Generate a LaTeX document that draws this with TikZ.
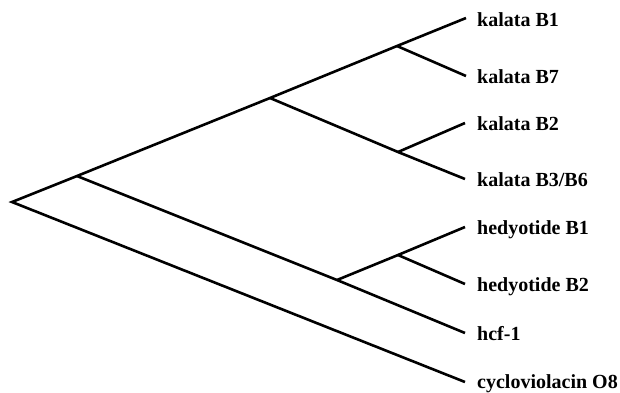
\documentclass[tikz,border=0pt]{standalone}
\usepackage{fontspec}
\setmainfont{Liberation Serif}
\begin{document}
\begin{tikzpicture}[x=1pt,y=-1pt,
  branch/.style={line width=2.6pt,line cap=butt,line join=miter},
  taxon/.style={anchor=base west,inner sep=0pt,font=\fontsize{20}{24}\selectfont\bfseries}]
\useasboundingbox (0,0) rectangle (620,392);
% internal nodes
\coordinate (root) at (12,202);
\coordinate (nIn) at (77,176);
\coordinate (nKal) at (270,98);
\coordinate (nB17) at (397,46);
\coordinate (nB236) at (398,152);
\coordinate (nHcf) at (337,280);
\coordinate (nHed) at (398,255);
% leaf tips
\coordinate (tB1) at (466,18);
\coordinate (tB7) at (466,76);
\coordinate (tB2) at (465,123);
\coordinate (tB36) at (465,179);
\coordinate (tH1) at (465,227);
\coordinate (tH2) at (465,284);
\coordinate (tHcf) at (465,333);
\coordinate (tCyc) at (465,382);
% labels
\node[taxon] (lB1) at (477,26) {kalata B1};
\node[taxon] (lB7) at (477,83) {kalata B7};
\node[taxon] (lB2) at (477,130) {kalata B2};
\node[taxon] (lB36) at (477,186) {kalata B3/B6};
\node[taxon] (lH1) at (477,234) {hedyotide B1};
\node[taxon] (lH2) at (477,291) {hedyotide B2};
\node[taxon] (lHcf) at (477,340) {hcf-1};
\node[taxon] (lCyc) at (477,388) {cycloviolacin O8};
% branches
\draw[branch] (tCyc) -- (root) -- (nIn) -- (nKal) -- (nB17) -- (tB1);
\draw[branch] (nB17) -- (tB7);
\draw[branch] (nKal) -- (nB236) -- (tB36);
\draw[branch] (nB236) -- (tB2);
\draw[branch] (nIn) -- (nHcf) -- (tHcf);
\draw[branch] (nHcf) -- (nHed) -- (tH1);
\draw[branch] (nHed) -- (tH2);
\end{tikzpicture}
\end{document}
